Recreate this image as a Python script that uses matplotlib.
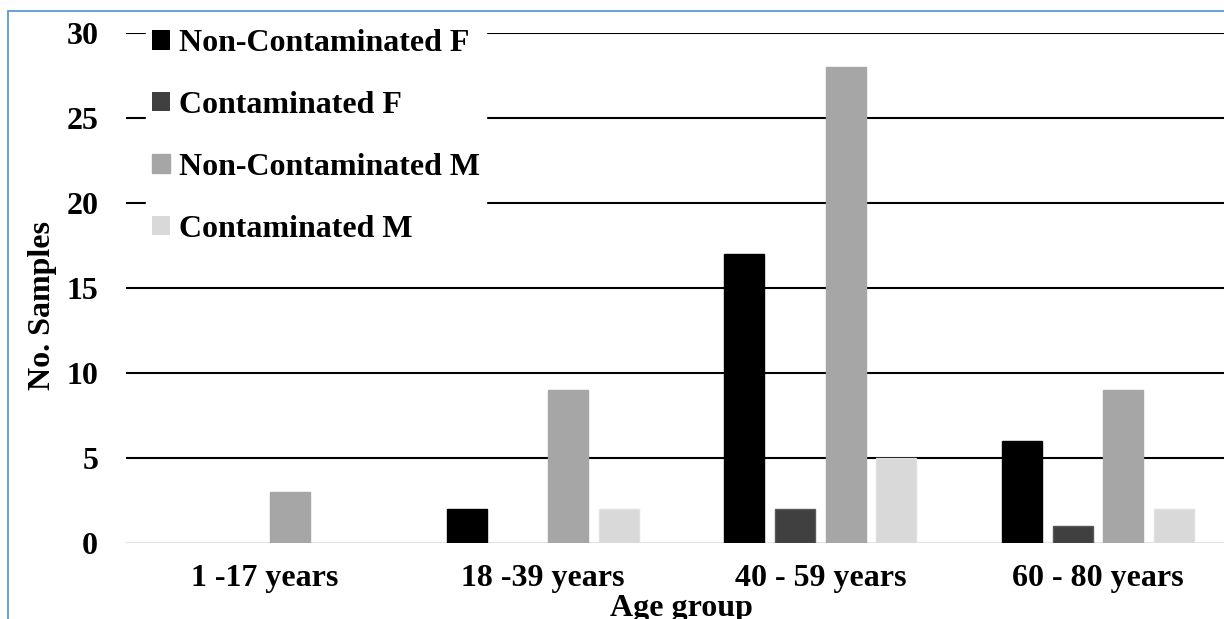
import numpy as np
import matplotlib.pyplot as plt
from matplotlib.patches import Rectangle

plt.rcParams['font.family'] = ['Liberation Serif', 'DejaVu Serif']
plt.rcParams['font.weight'] = 'bold'

age_groups = ['1 -17 years', '18 -39 years', '40 - 59 years', '60 - 80 years']
series_names = ['Non-Contaminated F', 'Contaminated F', 'Non-Contaminated M', 'Contaminated M']
non_cont_f = [0, 2, 17, 6]
cont_f = [0, 0, 2, 1]
non_cont_m = [3, 9, 28, 9]
cont_m = [0, 2, 5, 2]
y_ticks = [0, 5, 10, 15, 20, 25, 30]

fills = ['#000000', '#404040', '#a6a6a6', '#d9d9d9']
edges = ['#000000', '#595959', '#a6a6a6', '#e0e0e0']
FS = 23

fig = plt.figure(figsize=(12.24, 6.19), dpi=100)
ax = fig.add_axes([126 / 1224, 76 / 619, 1111 / 1224, 510 / 619])

# light blue frame around the chart area
fig.patches.append(Rectangle((8 / 1224, -0.1), 1.2, (619 - 11) / 619 + 0.1,
                             transform=fig.transFigure, fill=False,
                             edgecolor='#5b9bd5', linewidth=1.3))

x = np.arange(len(age_groups))
pitch = 0.1826
width = 0.144
for j, (vals, name) in enumerate(zip([non_cont_f, cont_f, non_cont_m, cont_m], series_names)):
    bars = ax.bar(x + (j - 1.5) * pitch, vals, width, color=fills[j], edgecolor=edges[j],
                  linewidth=1.0, label=name, zorder=3)
    for b, v in zip(bars, vals):
        if v == 0:
            b.set_linewidth(0)

ax.set_xlim(-0.5, 3.5)
ax.set_ylim(0, 30)
ax.set_yticks(y_ticks)
ax.set_xticks(x)
ax.set_xticklabels(age_groups)
for v in y_ticks[1:]:
    ax.axhline(v, color='black', linewidth=1.5, zorder=1)
ax.axhline(0, color='#d9d9d9', linewidth=1.8, zorder=2)

for s in ax.spines.values():
    s.set_visible(False)
ax.tick_params(axis='both', length=0, labelsize=FS)
ax.tick_params(axis='y', pad=20)
ax.tick_params(axis='x', pad=15)

ax.set_ylabel('No. Samples', fontsize=FS, fontweight='bold')
ax.yaxis.set_label_coords(-0.062, 0.465)
ax.set_xlabel('Age group', fontsize=FS, fontweight='bold')
ax.xaxis.set_label_coords(0.5, -0.1)

leg = ax.legend(loc='upper left', bbox_to_anchor=(0.018, 1.02), fontsize=FS,
                frameon=True, facecolor='white', edgecolor='white', framealpha=1,
                handlelength=0.55, handleheight=0.55, handletextpad=0.28,
                labelspacing=1.03, borderpad=0.2, borderaxespad=0.0)
leg.set_zorder(5)

fig.savefig('out.png', dpi=100)
